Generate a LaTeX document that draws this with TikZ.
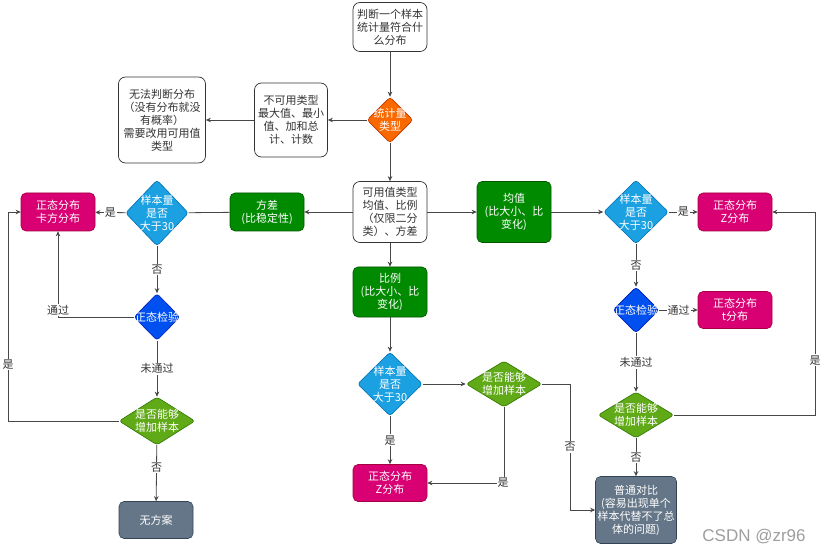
\documentclass[tikz,border=0pt]{standalone}
\usepackage{fontspec}
\setmainfont{Noto Sans CJK SC}
\newfontfamily\wmfont{Liberation Sans}
\usetikzlibrary{shapes.geometric,arrows.meta}
\definecolor{cOrange}{HTML}{FA6800}
\definecolor{cOrangeD}{HTML}{C73500}
\definecolor{cBlue}{HTML}{1BA1E2}
\definecolor{cBlueD}{HTML}{006EAF}
\definecolor{cCobalt}{HTML}{0050EF}
\definecolor{cCobaltD}{HTML}{001DBC}
\definecolor{cGreen}{HTML}{008A00}
\definecolor{cGreenD}{HTML}{005700}
\definecolor{cLime}{HTML}{60A917}
\definecolor{cLimeD}{HTML}{2D7600}
\definecolor{cMag}{HTML}{D80073}
\definecolor{cMagD}{HTML}{A50040}
\definecolor{cSlate}{HTML}{647687}
\definecolor{cSlateD}{HTML}{314354}
\definecolor{cText}{HTML}{333333}
\begin{document}
\begin{tikzpicture}[x=1pt,y=-1pt,
  base/.style={font=\fontsize{11}{13}\selectfont, align=center},
  wbox/.style={base, draw=cText, rounded corners=7pt, fill=white, text=cText, inner sep=0pt, line width=0.7pt},
  cbox/.style={base, rounded corners=5pt, text=white, inner sep=0pt, line width=0.6pt},
  dia/.style={diamond, rounded corners=3pt, inner sep=0pt, line width=0.6pt},
  dtext/.style={base, text=white, inner sep=0pt},
  conn/.style={draw=cText!90, line width=0.8pt, -{Stealth[length=5pt,width=4.5pt]}},
  plain/.style={draw=cText!90, line width=0.8pt},
  lbl/.style={base, fill=white, inner sep=1pt, text=cText},
]
\fill[white] (0,0) rectangle (824,553);
\useasboundingbox (0,0) rectangle (824,553);

% top
\node[wbox, minimum width=74pt, minimum height=49pt] (start) at (390,27) {判断一个样本\\统计量符合什\\么分布};
\node[dia, fill=cOrange, draw=cOrangeD, minimum width=46pt, minimum height=46pt] (type) at (390,120) {};
\node[dtext] (typet) at (type) {统计量\\类型};
\node[wbox, minimum width=73pt, minimum height=74pt] (notuse) at (291,120) {不可用类型\\最大值、最小\\值、加和总\\计、计数};
\node[wbox, minimum width=87pt, minimum height=86pt] (unable) at (162,120) {无法判断分布\\（没有分布就没\\有概率）\\需要改用可用值\\类型};
\node[wbox, minimum width=74pt, minimum height=61pt] (usable) at (390,212) {可用值类型\\均值、比例\\（仅限二分\\类）、方差};

% green boxes
\node[cbox, fill=cGreen, draw=cGreenD, minimum width=74pt, minimum height=38pt] (fangcha) at (267,212) {方差\\(比稳定性)};
\node[cbox, fill=cGreen, draw=cGreenD, minimum width=74pt, minimum height=61pt] (junzhi) at (514,212) {均值\\(比大小、比\\变化)};
\node[cbox, fill=cGreen, draw=cGreenD, minimum width=74pt, minimum height=50pt] (bili) at (390,292) {比例\\(比大小、比\\变化)};

% left column
\node[dia, fill=cBlue, draw=cBlueD, minimum width=63pt, minimum height=66pt] (d1) at (157,213) {};
\node[dtext] (d1t) at (d1) {样本量\\是否\\大于30};
\node[cbox, fill=cMag, draw=cMagD, minimum width=74pt, minimum height=38pt] (kafang) at (58,212) {正态分布\\卡方分布};
\node[dia, fill=cCobalt, draw=cCobaltD, minimum width=46pt, minimum height=47pt] (j1) at (157,317) {};
\node[dtext] (j1t) at (j1) {正态检验};
\node[dia, fill=cLime, draw=cLimeD, minimum width=76pt, minimum height=48pt] (g1) at (157,421) {};
\node[dtext] (g1t) at (g1) {是否能够\\增加样本};
\node[cbox, fill=cSlate, draw=cSlateD, minimum width=74pt, minimum height=37pt] (none) at (156,520) {无方案};

% middle column
\node[dia, fill=cBlue, draw=cBlueD, minimum width=65pt, minimum height=64pt] (d2) at (390,384) {};
\node[dtext] (d2t) at (d2) {样本量\\是否\\大于30};
\node[dia, fill=cLime, draw=cLimeD, minimum width=76pt, minimum height=46pt] (g2) at (504,384) {};
\node[dtext] (g2t) at (g2) {是否能够\\增加样本};
\node[cbox, fill=cMag, draw=cMagD, minimum width=74pt, minimum height=37pt] (z2) at (390,483) {正态分布\\Z分布};

% right column
\node[dia, fill=cBlue, draw=cBlueD, minimum width=65pt, minimum height=64pt] (d3) at (636,212) {};
\node[dtext] (d3t) at (d3) {样本量\\是否\\大于30};
\node[cbox, fill=cMag, draw=cMagD, minimum width=74pt, minimum height=38pt] (z3) at (735,212) {正态分布\\Z分布};
\node[dia, fill=cCobalt, draw=cCobaltD, minimum width=46pt, minimum height=46pt] (j3) at (636,310) {};
\node[dtext] (j3t) at (j3) {正态检验};
\node[cbox, fill=cMag, draw=cMagD, minimum width=74pt, minimum height=37pt] (t3) at (735,310) {正态分布\\t分布};
\node[dia, fill=cLime, draw=cLimeD, minimum width=76pt, minimum height=46pt] (g3) at (636,415) {};
\node[dtext] (g3t) at (g3) {是否能够\\增加样本};
\node[cbox, fill=cSlate, draw=cSlateD, minimum width=81pt, minimum height=67pt] (ord) at (636,510) {普通对比\\(容易出现单个\\样本代替不了总\\体的问题)};

% bend coordinates
\coordinate (c1) at (58,317);
\coordinate (c2a) at (8,421);
\coordinate (c2b) at (8,212);
\coordinate (c3) at (504,483);
\coordinate (c4a) at (570,384);
\coordinate (c4b) at (570,510);
\coordinate (c5a) at (815,415);
\coordinate (c5b) at (815,212);

% connectors
\draw[conn] (start) -- (type);
\draw[conn] (type) -- (notuse);
\draw[conn] (notuse) -- (unable);
\draw[conn] (type) -- (usable);
\draw[conn] (usable) -- (fangcha);
\draw[conn] (usable) -- (junzhi);
\draw[conn] (usable) -- (bili);
\draw[plain] (fangcha) -- (d1);
\draw[conn] (d1) -- node[lbl] {是} (kafang);
\draw[conn] (d1) -- node[lbl] {否} (j1);
\draw[conn] (j1) -- (c1) -- node[lbl, pos=0.08] {通过} (kafang);
\draw[conn] (j1) -- node[lbl] {未通过} (g1);
\draw[conn] (g1) -- (c2a) -- node[lbl, pos=0.27] {是} (c2b) -- (kafang);
\draw[conn] (g1) -- node[lbl, pos=0.4] {否} (none);

\draw[conn] (bili) -- (d2);
\draw[conn] (d2) -- (g2);
\draw[conn] (d2) -- node[lbl] {是} (z2);
\draw[conn] (g2) -- (c3) -- (z2);
\node[lbl] (l1) at (503,483) {是};
\draw[conn] (g2) -- (c4a) -- node[lbl] {否} (c4b) -- (ord);

\draw[conn] (junzhi) -- (d3);
\draw[conn] (d3) -- node[lbl] {是} (z3);
\draw[conn] (d3) -- node[lbl] {否} (j3);
\draw[conn] (j3) -- node[lbl] {通过} (t3);
\draw[conn] (j3) -- node[lbl] {未通过} (g3);
\draw[conn] (g3) -- node[lbl] {否} (ord);
\draw[conn] (g3) -- (c5a) -- node[lbl, pos=0.27] {是} (c5b) -- (z3);

% watermark
\node[font=\wmfont\fontsize{17}{19}\selectfont, text=black!38, inner sep=0pt] (wm) at (754,537) {CSDN @zr96};
\end{tikzpicture}
\end{document}
